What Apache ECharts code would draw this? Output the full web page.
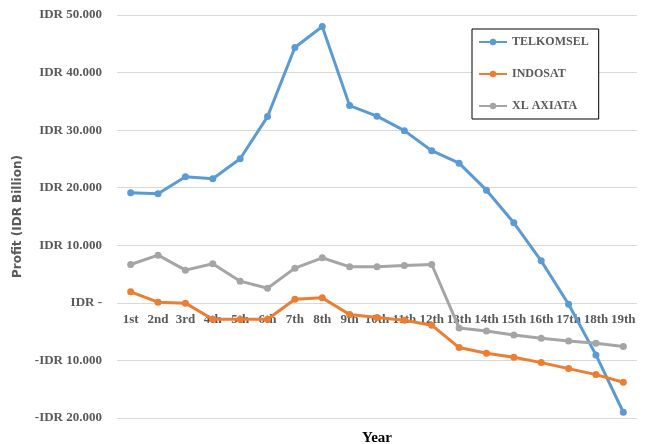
<!DOCTYPE html>
<html><head><meta charset="utf-8">
<script src="https://cdn.jsdelivr.net/npm/echarts@6/dist/echarts.min.js"></script>
<style>html,body{margin:0;padding:0;background:#fff}#c{width:650px;height:444px}</style>
</head><body><div id="c"></div>
<script>
var categories = ['1st','2nd','3rd','4th','5th','6th','7th','8th','9th','10th','11th','12th','13th','14th','15th','16th','17th','18th','19th'];
var telkomsel = [19130,18960,21900,21570,25040,32350,44350,48000,34260,32430,29910,26430,24260,19570,13910,7300,-230,-9040,-19000];
var indosat = [1910,120,-50,-2840,-2840,-2840,640,870,-2030,-2550,-3010,-3880,-7770,-8750,-9450,-10380,-11420,-12460,-13800];
var xlAxiata = [6660,8290,5680,6780,3770,2550,6030,7830,6260,6260,6490,6660,-4350,-4870,-5570,-6140,-6610,-7010,-7600];
var seriesNames = ['TELKOMSEL','INDOSAT','XL AXIATA'];
var colors = ['#5B9BD5','#ED7D31','#A5A5A5'];

function fmt(v){
  if (v === 0) return 'IDR -';
  var a = Math.abs(v).toString().replace(/\B(?=(\d{3})+(?!\d))/g,'.');
  return (v < 0 ? '-IDR ' : 'IDR ') + a;
}
function mk(name, data, color){
  return {name:name, type:'line', data:data, symbol:'circle', symbolSize:7,
    lineStyle:{width:3,color:color}, itemStyle:{color:color}, z: 10};
}
var chart = echarts.init(document.getElementById('c'));
chart.setOption({
  animation:false,
  grid:{left:117,right:13,top:15,bottom:26,outerBoundsMode:'none',containLabel:false},
  legend:{orient:'vertical',left:472,top:29,z:20,
    borderColor:'#000',borderWidth:1,backgroundColor:'#fff',padding:[7,10,7,6],
    itemWidth:28,itemHeight:8,itemGap:20,
    textStyle:{fontFamily:'Liberation Serif',fontWeight:'bold',fontSize:12,color:'#595959'},
    data:seriesNames},
  xAxis:{type:'category',data:categories,boundaryGap:true,position:'bottom',offset:-116,z:0,
    name:'Year',nameLocation:'middle',nameGap:129,
    nameTextStyle:{fontFamily:'Liberation Serif',fontWeight:'bold',fontSize:15,color:'#000'},
    axisLine:{show:false,onZero:false},axisTick:{show:false},
    axisLabel:{margin:11,fontFamily:'Liberation Serif',fontWeight:'bold',fontSize:13,color:'#595959',interval:0}},
  yAxis:{type:'value',min:-20000,max:50000,interval:10000,
    name:'Profit (IDR Billion)',nameLocation:'middle',nameGap:86,nameRotate:90,
    nameTextStyle:{fontFamily:'DejaVu Sans',fontWeight:'bold',fontSize:12,color:'#595959'},
    axisLine:{show:false},axisTick:{show:false},
    splitLine:{lineStyle:{color:'#d9d9d9',width:1}},
    axisLabel:{margin:15,formatter:fmt,fontFamily:'Liberation Serif',fontWeight:'bold',fontSize:13,color:'#595959'}},
  series:[mk(seriesNames[0],telkomsel,colors[0]),mk(seriesNames[1],indosat,colors[1]),mk(seriesNames[2],xlAxiata,colors[2])]
});
</script></body></html>
